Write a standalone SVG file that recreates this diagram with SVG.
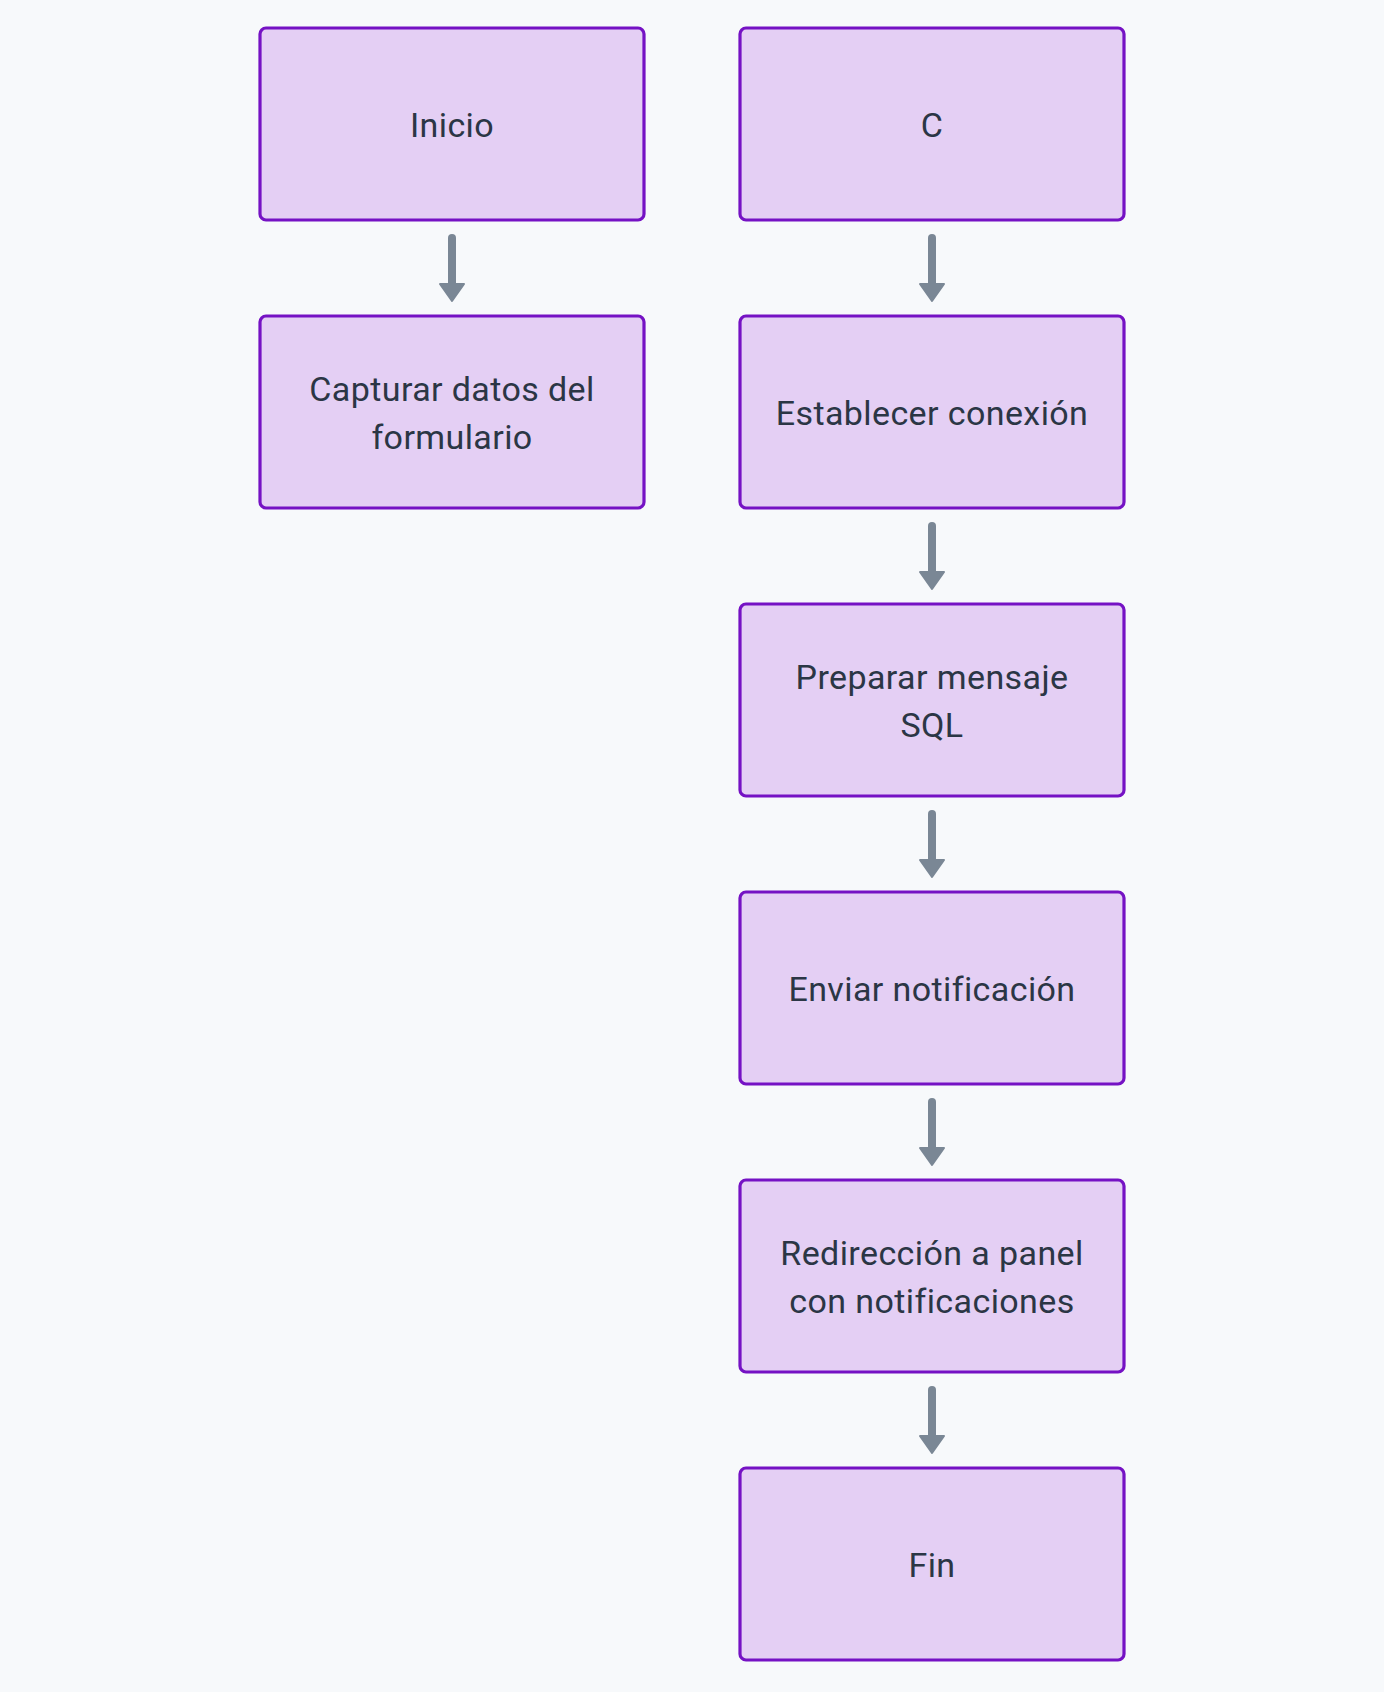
<svg xmlns="http://www.w3.org/2000/svg" width="1384" height="1692" viewBox="0 0 1384 1692">
<defs>
<style>
.node rect{fill:#e4cff4;stroke:#7512c4;stroke-width:3.2}
.node text{font-family:Roboto,"DejaVu Sans",sans-serif;font-size:34px;fill:#2b3645;text-anchor:middle;letter-spacing:0.4px}
.edge line{stroke:#7a8795;stroke-width:8;stroke-linecap:round}
.edge polygon{fill:#7a8795;stroke:#7a8795;stroke-width:2;stroke-linejoin:round}
</style>
</defs>
<rect x="0" y="0" width="1384" height="1692" fill="#f7f9fb"/>
<g id="connectors">
<g class="edge"><line x1="452" y1="238" x2="452" y2="286"/><polygon points="440,284 464,284 452,301"/></g>
<g class="edge"><line x1="932" y1="238" x2="932" y2="286"/><polygon points="920,284 944,284 932,301"/></g>
<g class="edge"><line x1="932" y1="526" x2="932" y2="574"/><polygon points="920,572 944,572 932,589"/></g>
<g class="edge"><line x1="932" y1="814" x2="932" y2="862"/><polygon points="920,860 944,860 932,877"/></g>
<g class="edge"><line x1="932" y1="1102" x2="932" y2="1150"/><polygon points="920,1148 944,1148 932,1165"/></g>
<g class="edge"><line x1="932" y1="1390" x2="932" y2="1438"/><polygon points="920,1436 944,1436 932,1453"/></g>
</g>
<g id="inicio" class="node"><rect x="260" y="28" width="384" height="192" rx="6"/><text x="452" y="137">Inicio</text></g>
<g id="capturar" class="node"><rect x="260" y="316" width="384" height="192" rx="6"/><text x="452" y="401">Capturar datos del</text><text x="452" y="449">formulario</text></g>
<g id="c" class="node"><rect x="740" y="28" width="384" height="192" rx="6"/><text x="932" y="137">C</text></g>
<g id="establecer" class="node"><rect x="740" y="316" width="384" height="192" rx="6"/><text x="932" y="425">Establecer conexión</text></g>
<g id="preparar" class="node"><rect x="740" y="604" width="384" height="192" rx="6"/><text x="932" y="689">Preparar mensaje</text><text x="932" y="737">SQL</text></g>
<g id="enviar" class="node"><rect x="740" y="892" width="384" height="192" rx="6"/><text x="932" y="1001">Enviar notificación</text></g>
<g id="redireccion" class="node"><rect x="740" y="1180" width="384" height="192" rx="6"/><text x="932" y="1265">Redirección a panel</text><text x="932" y="1313">con notificaciones</text></g>
<g id="fin" class="node"><rect x="740" y="1468" width="384" height="192" rx="6"/><text x="932" y="1577">Fin</text></g>
</svg>
